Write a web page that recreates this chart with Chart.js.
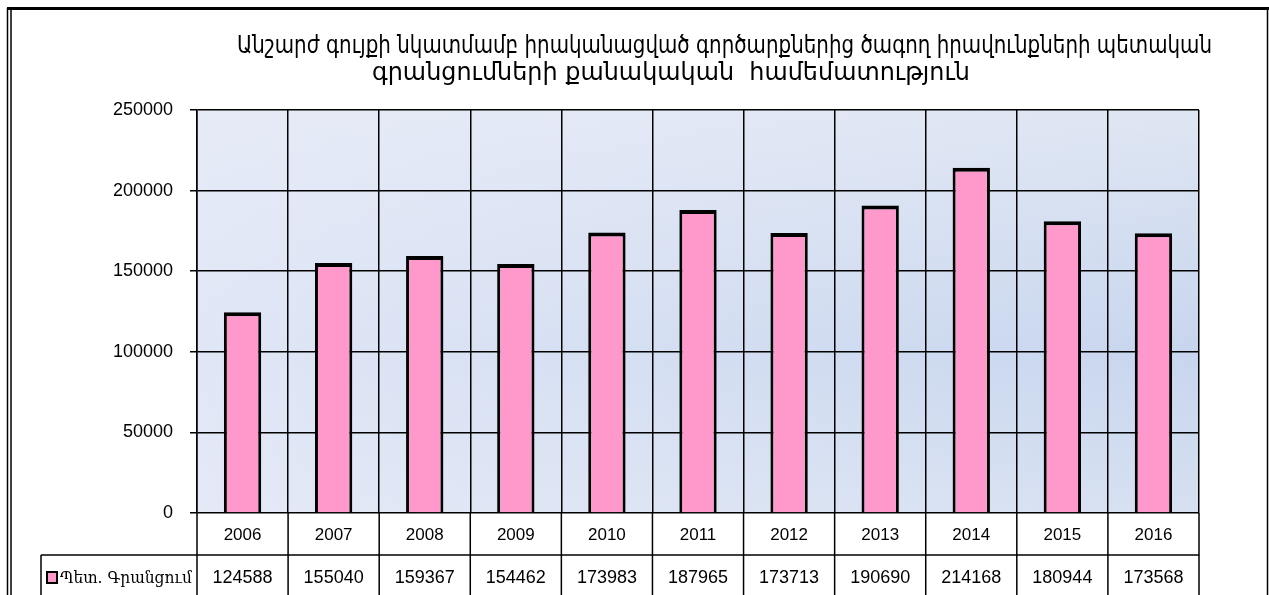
<!DOCTYPE html>
<html>
<head>
<meta charset="utf-8">
<script src="https://cdn.jsdelivr.net/npm/chart.js@4.4.0/dist/chart.umd.min.js"></script>
<style>
    html, body { margin: 0; padding: 0; background: #fff; }
    #wrap { width: 1269px; height: 595px; position: relative; overflow: hidden; }
</style>
</head>
<body>
<div id="wrap"><canvas id="chart" width="1269" height="595"></canvas></div>
<script>
// Data
const years = ['2006', '2007', '2008', '2009', '2010', '2011', '2012', '2013', '2014', '2015', '2016'];
const registrations = [124588, 155040, 159367, 154462, 173983, 187965, 173713, 190690, 214168, 180944, 173568];
const seriesLabel = 'Պետ. Գրանցում';
const titleLines = [
    'Անշարժ գույքի նկատմամբ իրականացված գործարքներից ծագող իրավունքների պետական',
    'գրանցումների քանակական  համեմատություն'
];
const yMax = 250000;
const yStep = 50000;

const numFont = '"Liberation Sans", Arial, sans-serif';
const barColor = '#ff99cc';

// draw text squeezed/stretched to a given width (reference font is condensed)
function fitText(ctx, text, x, y, width) {
    const w = ctx.measureText(text).width;
    ctx.save();
    ctx.translate(x, y);
    ctx.scale(width / w, 1);
    ctx.fillText(text, 0, 0);
    ctx.restore();
}

const backdrop = {
    id: 'backdrop',
    beforeDraw(chart) {
        const { ctx, chartArea: a, width, height } = chart;
        ctx.save();
        ctx.fillStyle = '#fff';
        ctx.fillRect(0, 0, width, height);

        // page frame
        ctx.strokeStyle = '#000';
        ctx.lineWidth = 3;
        ctx.beginPath();
        ctx.moveTo(7, 8.5);
        ctx.lineTo(width, 8.5);
        ctx.stroke();
        ctx.lineWidth = 1.5;
        ctx.beginPath();
        ctx.moveTo(7.5, 8); ctx.lineTo(7.5, height);
        ctx.moveTo(11, 10); ctx.lineTo(11, height);
        ctx.moveTo(1267.5, 8); ctx.lineTo(1267.5, height);
        ctx.stroke();

        // plot area: blue band lower-right, lighter at top/left/bottom
        const w = a.right - a.left, h = a.bottom - a.top;
        const v = ctx.createLinearGradient(0, a.top, 0, a.bottom);
        v.addColorStop(0, '#dfe6f3');
        v.addColorStop(0.6, '#c7d5ee');
        v.addColorStop(1, '#d6e0f1');
        ctx.fillStyle = v;
        ctx.fillRect(a.left, a.top, w, h);
        const hz = ctx.createLinearGradient(a.left, 0, a.right, 0);
        hz.addColorStop(0, 'rgba(232,236,248,0.75)');
        hz.addColorStop(0.6, 'rgba(232,236,248,0.3)');
        hz.addColorStop(1, 'rgba(232,236,248,0)');
        ctx.fillStyle = hz;
        ctx.fillRect(a.left, a.top, w, h);
        ctx.restore();
    }
};

const overlay = {
    id: 'overlay',
    afterDraw(chart) {
        const { ctx, chartArea: a, height } = chart;
        const xs = chart.scales.x;
        const half = (xs.getPixelForValue(1) - xs.getPixelForValue(0)) / 2;
        const rowY = 555;
        const legendLeft = 41;

        ctx.save();
        ctx.strokeStyle = '#000';
        ctx.lineWidth = 1.5;
        ctx.beginPath();
        ctx.moveTo(legendLeft, rowY);
        ctx.lineTo(a.right, rowY);
        ctx.moveTo(legendLeft, rowY);
        ctx.lineTo(legendLeft, height);
        years.forEach((y, i) => {
            const x = xs.getPixelForValue(i) - half;
            ctx.moveTo(x, a.bottom);
            ctx.lineTo(x, height);
        });
        ctx.moveTo(a.right, a.bottom);
        ctx.lineTo(a.right, height);
        ctx.stroke();

        // table text
        ctx.fillStyle = '#000';
        ctx.textAlign = 'center';
        ctx.textBaseline = 'middle';
        ctx.font = '17px ' + numFont;
        years.forEach((y, i) => ctx.fillText(y, xs.getPixelForValue(i), 535));
        ctx.font = '18px ' + numFont;
        registrations.forEach((v, i) => ctx.fillText(String(v), xs.getPixelForValue(i), 578));

        // legend key
        ctx.fillStyle = barColor;
        ctx.fillRect(47, 572, 10, 11);
        ctx.lineWidth = 2;
        ctx.strokeRect(47, 572, 10, 11);
        ctx.fillStyle = '#000';
        ctx.textAlign = 'left';
        ctx.textBaseline = 'alphabetic';
        ctx.font = '16px "DejaVu Serif", serif';
        fitText(ctx, seriesLabel, 60, 583, 132);

        // title
        ctx.font = '24px "DejaVu Sans", "Noto Sans", sans-serif';
        fitText(ctx, titleLines[0], 237, 53, 975);
        fitText(ctx, titleLines[1], 372, 80, 598);
        ctx.restore();
    }
};

new Chart(document.getElementById('chart'), {
    type: 'bar',
    data: {
        labels: years,
        datasets: [{
            label: seriesLabel,
            data: registrations,
            backgroundColor: barColor,
            borderColor: '#000',
            borderWidth: { top: 4, left: 3, right: 3, bottom: 0 },
            borderSkipped: false,
            barPercentage: 0.41,
            categoryPercentage: 1
        }]
    },
    options: {
        responsive: false,
        animation: false,
        layout: { padding: { left: 0, right: 70, top: 110, bottom: 82 } },
        plugins: {
            legend: { display: false },
            title: { display: false },
            tooltip: { enabled: false }
        },
        scales: {
            x: {
                grid: { color: '#000', lineWidth: 1.5, offset: true, drawTicks: false },
                border: { display: false },
                ticks: { display: false },
                afterFit: (s) => { s.height = 0; }
            },
            y: {
                min: 0,
                max: yMax,
                ticks: {
                    stepSize: yStep,
                    color: '#000',
                    padding: 17,
                    font: { family: numFont, size: 18 },
                    callback: (value) => String(value)
                },
                grid: { color: '#000', lineWidth: 1.5, tickLength: 7 },
                border: { display: true, color: '#000', width: 1.5 },
                afterFit: (s) => { s.width = 197; }
            }
        }
    },
    plugins: [backdrop, overlay]
});
</script>
</body>
</html>
